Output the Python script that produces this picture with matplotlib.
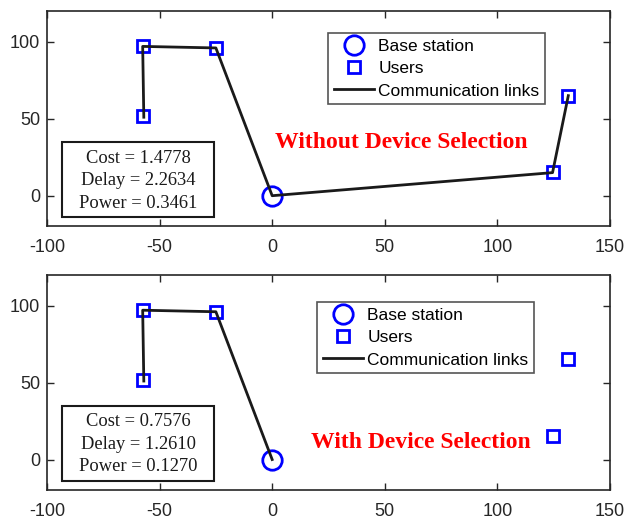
import numpy as np
import matplotlib.pyplot as plt

# node positions
bs_x = [0]
bs_y = [0]
user_x = [-57.5, -57.5, -25, 124.5, 131.5]
user_y = [97, 51.5, 96, 15.5, 65]

# links without selection
link1_x = [-57, -57.5, -25, 0, 124.5, 131.5]
link1_y = [51, 97, 96, 0, 15, 65]
# links with selection
link2_x = [-57, -57.5, -25, 0]
link2_y = [51, 97, 96, 0]

stats1 = ['Cost = 1.4778', 'Delay = 2.2634', 'Power = 0.3461']
stats2 = ['Cost = 0.7576', 'Delay = 1.2610', 'Power = 0.1270']
titles = ['Without Device Selection', 'With Device Selection']
title_pos = [(57.3, 34.6), (66, 10.9)]
leg_pos = [(0.4997, 0.899), (0.480, 0.875)]

plt.rcParams['font.family'] = 'Liberation Sans'
plt.rcParams['axes.unicode_minus'] = False
fig = plt.figure(figsize=(6.28, 5.19), dpi=100)
ax1 = fig.add_axes([0.0748, 0.5636, 0.8965, 0.4152])
ax2 = fig.add_axes([0.0748, 0.0553, 0.8965, 0.4152])

gray = '#262626'
panels = [(ax1, link1_x, link1_y, stats1, titles[0], title_pos[0], leg_pos[0]),
          (ax2, link2_x, link2_y, stats2, titles[1], title_pos[1], leg_pos[1])]
for ax, lx, ly, st, ttl, tp, lp in panels:
    ax.plot(bs_x, bs_y, 'o', ms=14, mfc='none', mec='#0000ff', mew=2, label='Base station')
    ax.plot(user_x, user_y, 's', ms=8, mfc='none', mec='#0000ff', mew=2, label='Users')
    ax.plot(lx, ly, '-', color='#1a1a1a', lw=2, label='Communication links')
    ax.set_xlim(-100, 150)
    ax.set_ylim(-20, 120)
    ax.set_xticks([-100, -50, 0, 50, 100, 150])
    ax.set_yticks([0, 50, 100])
    ax.tick_params(direction='in', top=True, right=True, length=5, width=1,
                   labelsize=13, colors=gray, labelcolor=gray)
    ax.tick_params(axis='x', pad=9)
    ax.tick_params(axis='y', pad=5)
    for s in ax.spines.values():
        s.set_color(gray)
        s.set_linewidth(1.2)
    leg = ax.legend(loc='upper left', bbox_to_anchor=lp, borderaxespad=0, fontsize=12.5,
                    fancybox=False, edgecolor='#555555', framealpha=1, handlelength=2.33,
                    borderpad=0.33, labelspacing=0.42, handletextpad=0.23)
    leg.get_frame().set_linewidth(1.2)
    ax.add_patch(plt.Rectangle((0.0266, 0.044), 0.27, 0.348, transform=ax.transAxes,
                               fc='white', ec='#1a1a1a', lw=1.5, zorder=5))
    ax.text(0.162, 0.213, '\n'.join(st), transform=ax.transAxes, ha='center', va='center',
            family='Liberation Serif', fontsize=13.3, linespacing=1.42, color='#1a1a1a', zorder=6)
    ax.text(tp[0], tp[1], ttl, ha='center', va='center', color='#ff0000',
            family='Liberation Serif', fontweight='bold', fontsize=17)

fig.savefig('out.png', dpi=100)
